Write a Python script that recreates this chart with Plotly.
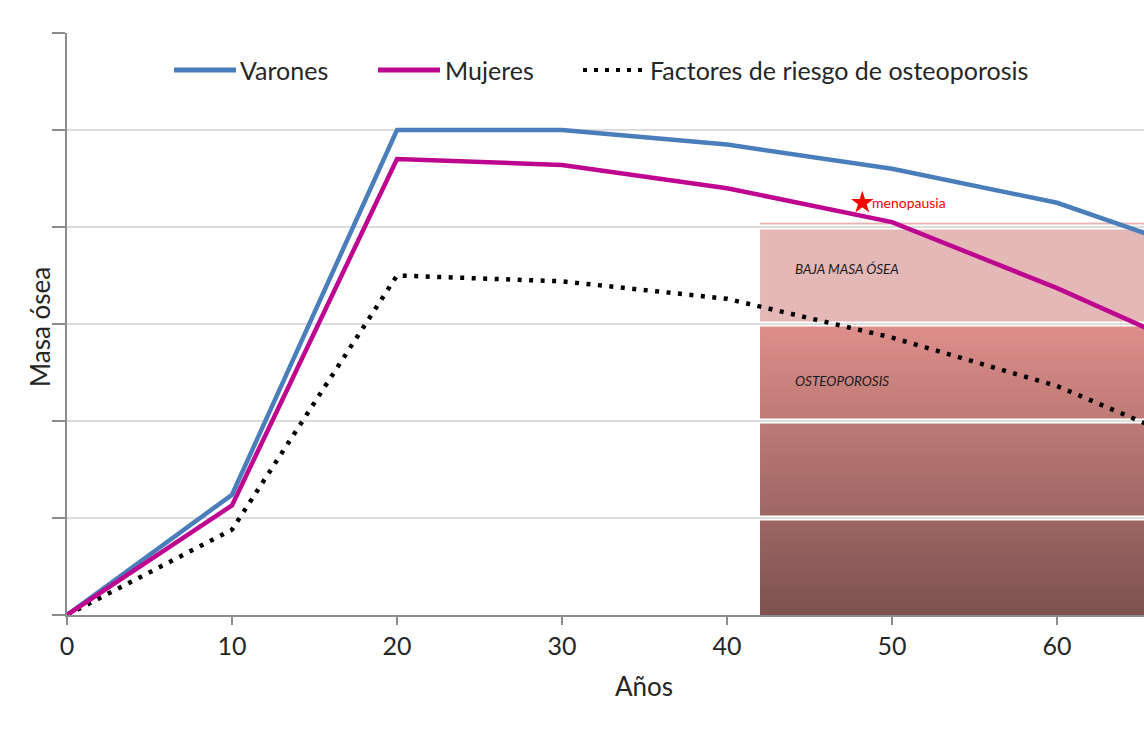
import plotly.graph_objects as go

# ---- data ----
ages = [0, 10, 20, 30, 40, 50, 60, 70]
varones = [0.0, 1.24, 5.0, 5.0, 4.85, 4.6, 4.25, 3.66]
mujeres = [0.0, 1.13, 4.70, 4.64, 4.40, 4.05, 3.37, 2.61]
factores = [0.0, 0.88, 3.50, 3.44, 3.26, 2.86, 2.36, 1.64]
x_ticks = [0, 10, 20, 30, 40, 50, 60]
menopausia_x = [48.2]
menopausia_y = [4.25]
zona_inicio = 42
baja_masa = [3, 4]      # band of low bone mass
osteoporosis = [0, 3]   # band of osteoporosis

X_MAX = 65.27
Y_MAX = 6

FONT = "Lato"
TXT = "#262626"

W, H = 1144, 752
PL, PR, PT, PB = 67, 1144, 33, 615   # plot area in window pixels

fig = go.Figure()

fig.add_trace(go.Scatter(x=ages, y=factores, mode="lines", name="Factores de riesgo de osteoporosis",
                         line=dict(color="#000000", width=4.5, dash="4px,7.5px"), showlegend=False,
                         hoverinfo="skip"))
fig.add_trace(go.Scatter(x=ages, y=varones, mode="lines", name="Varones",
                         line=dict(color="#4A7EBB", width=4.5), showlegend=False))
fig.add_trace(go.Scatter(x=ages, y=mujeres, mode="lines", name="Mujeres",
                         line=dict(color="#BE0590", width=4.5), showlegend=False))
fig.add_trace(go.Scatter(x=menopausia_x, y=menopausia_y, mode="markers", showlegend=False,
                         marker=dict(symbol="star", size=17, color="#FF0000", line=dict(width=0))))

shapes = []
# low bone mass band
shapes.append(dict(type="rect", xref="x", yref="y", x0=zona_inicio, x1=X_MAX + 1,
                   y0=baja_masa[0], y1=baja_masa[1] + 0.04, fillcolor="#E4B8B7",
                   line=dict(width=0), layer="below"))
shapes.append(dict(type="line", xref="x", yref="y", x0=zona_inicio, x1=X_MAX + 1,
                   y0=baja_masa[1] + 0.04, y1=baja_masa[1] + 0.04,
                   line=dict(color="#E8B0B0", width=1), layer="below"))
# gradient osteoporosis band
top_c = (222, 142, 138)
bot_c = (124, 82, 80)
N = 90
h = (osteoporosis[1] - osteoporosis[0]) / N
for i in range(N):
    y0 = osteoporosis[0] + i * h
    t = (i + 0.5) / N  # 0 bottom -> 1 top
    c = tuple(int(round(bot_c[k] + (top_c[k] - bot_c[k]) * t)) for k in range(3))
    shapes.append(dict(type="rect", xref="x", yref="y", x0=zona_inicio, x1=X_MAX + 1,
                       y0=y0, y1=y0 + h * 1.3, fillcolor="rgb(%d,%d,%d)" % c,
                       line=dict(width=0), layer="below"))
# white separators where gridlines cross bands
for yv in [1, 2, 3, 4]:
    shapes.append(dict(type="line", xref="x", yref="y", x0=zona_inicio, x1=X_MAX + 1,
                       y0=yv, y1=yv, line=dict(color="#FFFFFF", width=5), layer="below"))

# manual legend (positions in window pixels -> paper coords)
def px(v):
    return (v - PL) / float(PR - PL)
def py(v):
    return (PB - v) / float(PB - PT)
leg_y = py(70)
shapes.append(dict(type="line", xref="paper", yref="paper", x0=px(174), x1=px(236), y0=leg_y, y1=leg_y,
                   line=dict(color="#4A7EBB", width=5)))
shapes.append(dict(type="line", xref="paper", yref="paper", x0=px(378), x1=px(440), y0=leg_y, y1=leg_y,
                   line=dict(color="#BE0590", width=5)))
shapes.append(dict(type="line", xref="paper", yref="paper", x0=px(583), x1=px(648), y0=leg_y, y1=leg_y,
                   line=dict(color="#000000", width=4, dash="4px,7px")))

LF = 25
annotations = [
    dict(text="Varones", xref="paper", yref="paper", x=px(238), y=leg_y, xanchor="left", yanchor="middle",
         showarrow=False, font=dict(family=FONT, size=LF, color=TXT)),
    dict(text="Mujeres", xref="paper", yref="paper", x=px(443), y=leg_y, xanchor="left", yanchor="middle",
         showarrow=False, font=dict(family=FONT, size=LF, color=TXT)),
    dict(text="Factores de riesgo de osteoporosis", xref="paper", yref="paper", x=px(648), y=leg_y,
         xanchor="left", yanchor="middle", showarrow=False, font=dict(family=FONT, size=LF, color=TXT)),
    dict(text="menopausia", xref="x", yref="y", x=menopausia_x[0], y=menopausia_y[0], xanchor="left",
         yanchor="middle", xshift=8, showarrow=False, font=dict(family=FONT, size=14, color="#FF0000")),
    dict(text="<i>BAJA MASA ÓSEA</i>", xref="x", yref="y", x=44.0, y=3.57, xanchor="left",
         yanchor="middle", showarrow=False, font=dict(family=FONT, size=13.5, color="#1a1a1a")),
    dict(text="<i>OSTEOPOROSIS</i>", xref="x", yref="y", x=44.0, y=2.41, xanchor="left",
         yanchor="middle", showarrow=False, font=dict(family=FONT, size=13.5, color="#1a1a1a")),
    dict(text="Masa ósea", xref="paper", yref="paper", x=0, y=py(327), xshift=40 - PL, textangle=-90,
         xanchor="center", yanchor="middle", showarrow=False, font=dict(family=FONT, size=26, color=TXT)),
    dict(text="Años", xref="paper", yref="paper", x=px(644), y=0, yshift=-(686 - PB),
         xanchor="center", yanchor="middle", showarrow=False, font=dict(family=FONT, size=26, color=TXT)),
]

fig.update_layout(
    width=W, height=H,
    margin=dict(l=PL, r=W - PR, t=PT, b=H - PB, pad=0),
    paper_bgcolor="#FFFFFF", plot_bgcolor="#FFFFFF",
    shapes=shapes, annotations=annotations,
    showlegend=False,
    font=dict(family=FONT, size=22, color=TXT),
    xaxis=dict(range=[0, X_MAX], tickmode="array", tickvals=x_ticks, ticktext=[str(v) for v in x_ticks],
               showline=True, linecolor="#8C8C8C", linewidth=2, ticks="outside", ticklen=8,
               tickcolor="#8C8C8C", tickwidth=2, showgrid=False, zeroline=False,
               tickfont=dict(family=FONT, size=25, color=TXT)),
    yaxis=dict(range=[0, Y_MAX], dtick=1, showticklabels=False, showline=True, linecolor="#8C8C8C",
               linewidth=2, ticks="outside", ticklen=13, tickcolor="#8C8C8C", tickwidth=2,
               showgrid=True, gridcolor="#DCDCDC", gridwidth=2, zeroline=False),
)

fig.write_html("out.html", config={"displayModeBar": False},
               post_script="document.body.style.margin='0';document.body.style.overflow='hidden';")
